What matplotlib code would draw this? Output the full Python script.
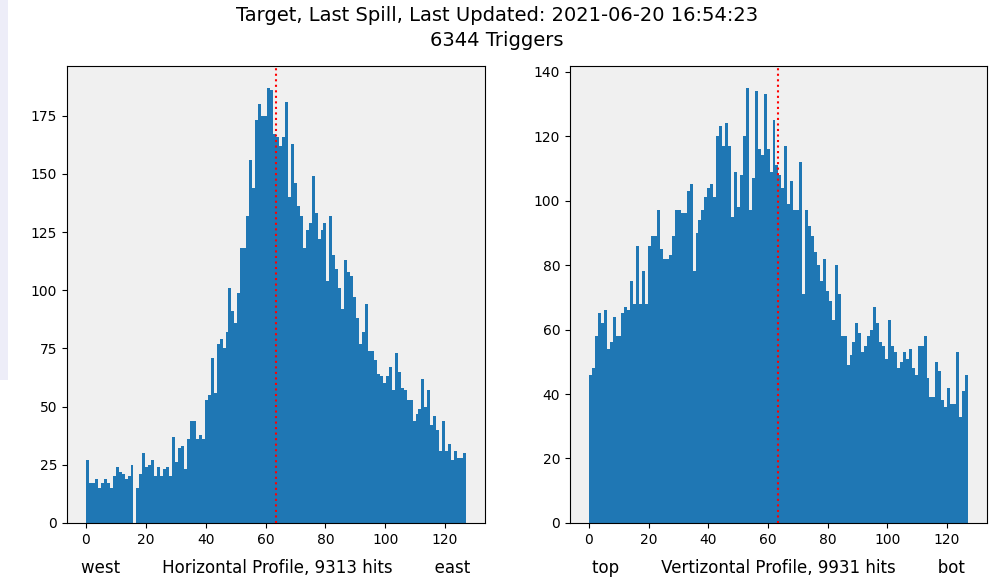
import matplotlib
matplotlib.use("Agg")
import matplotlib.pyplot as plt
from matplotlib.patches import Rectangle
import numpy as np

# paddle numbers 0..127 for both planes
channels = np.arange(128)

horiz_counts = [
    27, 17, 17, 19, 15, 17, 19, 17, 15, 20,
    24, 22, 21, 19, 20, 25, 0, 15, 21, 30,
    24, 25, 27, 20, 24, 20, 23, 24, 20, 37,
    26, 32, 33, 23, 36, 44, 44, 36, 38, 36,
    53, 55, 71, 56, 77, 79, 75, 82, 101, 91,
    86, 99, 118, 118, 132, 156, 144, 173, 180, 175,
    175, 187, 186, 167, 166, 162, 166, 181, 140, 163,
    146, 136, 132, 118, 126, 129, 149, 133, 122, 126,
    129, 104, 132, 115, 109, 101, 92, 113, 108, 106,
    97, 88, 77, 82, 94, 74, 74, 70, 64, 63,
    60, 63, 67, 57, 73, 65, 58, 57, 53, 53,
    44, 47, 49, 62, 50, 57, 42, 46, 40, 31,
    44, 31, 34, 27, 31, 28, 28, 30,
]

vert_counts = [
    46, 48, 58, 65, 62, 66, 54, 56, 64, 58,
    58, 65, 67, 66, 75, 68, 86, 68, 78, 68,
    86, 89, 89, 97, 85, 82, 82, 83, 89, 97,
    97, 96, 96, 103, 105, 78, 90, 94, 97, 101,
    104, 105, 101, 120, 123, 117, 124, 117, 95, 109,
    98, 108, 120, 135, 97, 107, 134, 116, 114, 133,
    116, 109, 125, 111, 108, 104, 117, 99, 106, 97,
    97, 112, 71, 97, 92, 89, 84, 80, 75, 82,
    72, 69, 63, 80, 71, 58, 58, 49, 52, 56,
    62, 59, 53, 55, 58, 60, 67, 62, 56, 55,
    51, 63, 55, 53, 48, 50, 53, 51, 54, 48,
    46, 55, 55, 58, 45, 39, 39, 50, 47, 38,
    36, 42, 37, 37, 53, 33, 41, 46,
]

title = "Target, Last Spill, Last Updated: 2021-06-20 16:54:23\n6344 Triggers"
horiz_hits = 9313
vert_hits = 9931
center = 63.5
gap = " " * 8

fig = plt.figure(figsize=(9.94, 5.78), dpi=100)
# pale strip down the left edge of the window
fig.patches.append(Rectangle((0, 1 - 380 / 578), 8 / 994, 380 / 578,
                             transform=fig.transFigure, facecolor="#ededf8",
                             edgecolor="none"))

ax1 = fig.add_axes([0.0674, 0.0952, 0.4205, 0.7907])
ax2 = fig.add_axes([0.5734, 0.0952, 0.4195, 0.7907])

panels = [
    (ax1, horiz_counts, "west", "Horizontal", horiz_hits, "east"),
    (ax2, vert_counts, "top", "Vertizontal", vert_hits, "bot"),
]
for ax, counts, lo, name, hits, hi in panels:
    ax.set_facecolor("#f0f0f0")
    ax.hist(channels, bins=128, weights=counts)
    ax.axvline(center, color="red", linestyle=":")
    ax.set_xlabel(lo + gap + "%s Profile, %d hits" % (name, hits) + gap + hi,
                  fontsize=12, labelpad=9)

fig.suptitle(title, fontsize=14, y=0.99, linespacing=1.4)
fig.savefig("out.png")
